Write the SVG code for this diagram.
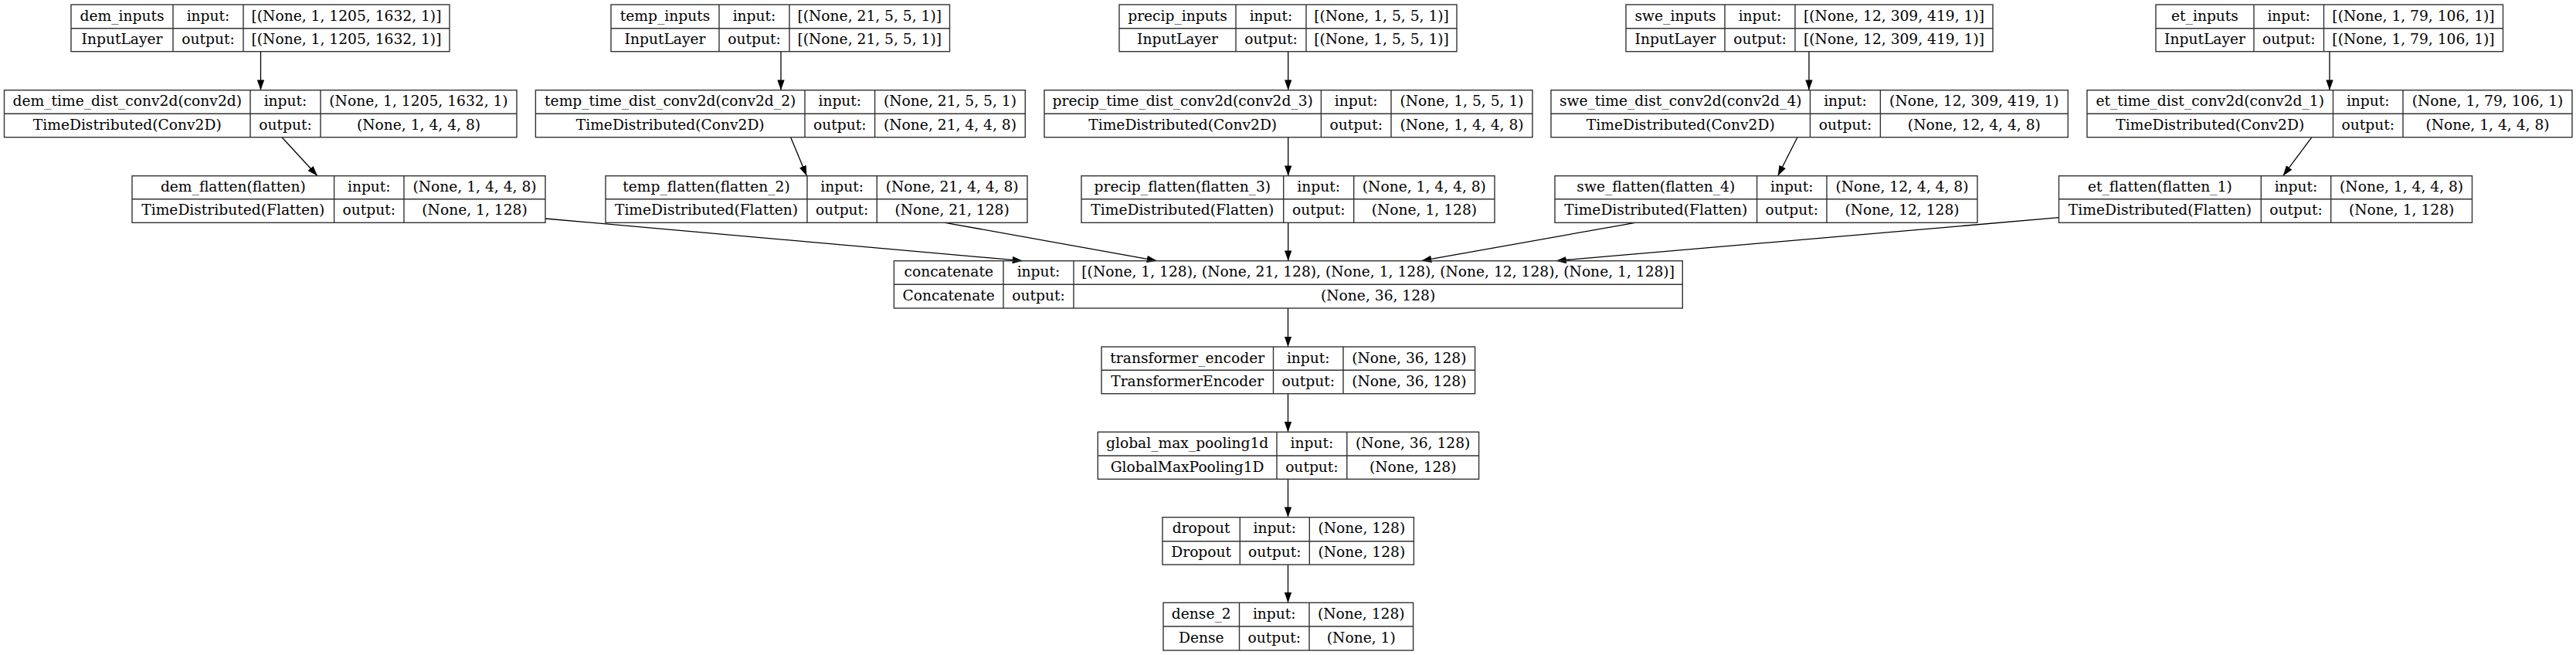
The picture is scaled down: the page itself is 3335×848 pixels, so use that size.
<svg xmlns="http://www.w3.org/2000/svg" width="3335" height="848" viewBox="0 0 3335 848">
<style>
.n rect,.n line{fill:none;stroke:#333;stroke-width:1.4}
.n text{font-family:"DejaVu Serif","Liberation Serif",serif;font-size:18.67px;text-anchor:middle;fill:#000}
.e path{fill:none;stroke:#000;stroke-width:1.3}
</style>
<defs>
<marker id="ah" markerUnits="userSpaceOnUse" markerWidth="14" markerHeight="10" refX="13.3" refY="4.67" orient="auto"><path d="M0,0 L13.3,4.67 L0,9.33 z" fill="#000"/></marker>
</defs>
<rect width="3335" height="848" fill="#fff"/>
<g class="e" marker-end="url(#ah)">
<path d="M337.5,66.7 L337.5,116.7" marker-end="url(#ah)"/>
<path d="M1011,66.7 L1011,116.7" marker-end="url(#ah)"/>
<path d="M1667.7,66.7 L1667.7,116.7" marker-end="url(#ah)"/>
<path d="M2342,66.7 L2342,116.7" marker-end="url(#ah)"/>
<path d="M3016,66.7 L3016,116.7" marker-end="url(#ah)"/>
<path d="M365,177.7 L411,227.7" marker-end="url(#ah)"/>
<path d="M1023.7,177.7 L1044.4,227.7" marker-end="url(#ah)"/>
<path d="M1667.7,177.7 L1667.7,227.7" marker-end="url(#ah)"/>
<path d="M2327,177.7 L2301.7,227.7" marker-end="url(#ah)"/>
<path d="M2993,177.7 L2955.7,227.7" marker-end="url(#ah)"/>
<path d="M706,283 L1324,337.7" marker-end="url(#ah)"/>
<path d="M1223.5,288.3 L1498,337.7" marker-end="url(#ah)"/>
<path d="M1667.7,288.3 L1667.7,337.7" marker-end="url(#ah)"/>
<path d="M2117,288.3 L1840,337.7" marker-end="url(#ah)"/>
<path d="M2665.5,281.7 L2014.5,337.7" marker-end="url(#ah)"/>
<path d="M1667.5,399 L1667.5,449" marker-end="url(#ah)"/>
<path d="M1667.5,509.7 L1667.5,559.3" marker-end="url(#ah)"/>
<path d="M1667.5,620.3 L1667.5,669.7" marker-end="url(#ah)"/>
<path d="M1667.5,731 L1667.5,780.3" marker-end="url(#ah)"/>
</g>

<g id="dem_inputs" class="n">
<rect x="92" y="6" width="490" height="60.7"/><line x1="92" y1="36.7" x2="582" y2="36.7"/><line x1="224" y1="6" x2="224" y2="66.7"/><line x1="315" y1="6" x2="315" y2="66.7"/>
<text x="158" y="26.5">dem_inputs</text><text x="269.5" y="26.5">input:</text><text x="448.5" y="26.5">[(None, 1, 1205, 1632, 1)]</text>
<text x="158" y="57.2">InputLayer</text><text x="269.5" y="57.2">output:</text><text x="448.5" y="57.2">[(None, 1, 1205, 1632, 1)]</text>
</g>
<g id="temp_inputs" class="n">
<rect x="791" y="6" width="438.5" height="60.7"/><line x1="791" y1="36.7" x2="1229.5" y2="36.7"/><line x1="931" y1="6" x2="931" y2="66.7"/><line x1="1022" y1="6" x2="1022" y2="66.7"/>
<text x="861" y="26.5">temp_inputs</text><text x="976.5" y="26.5">input:</text><text x="1125.75" y="26.5">[(None, 21, 5, 5, 1)]</text>
<text x="861" y="57.2">InputLayer</text><text x="976.5" y="57.2">output:</text><text x="1125.75" y="57.2">[(None, 21, 5, 5, 1)]</text>
</g>
<g id="precip_inputs" class="n">
<rect x="1449" y="6" width="437" height="60.7"/><line x1="1449" y1="36.7" x2="1886" y2="36.7"/><line x1="1600" y1="6" x2="1600" y2="66.7"/><line x1="1691" y1="6" x2="1691" y2="66.7"/>
<text x="1524.5" y="26.5">precip_inputs</text><text x="1645.5" y="26.5">input:</text><text x="1788.5" y="26.5">[(None, 1, 5, 5, 1)]</text>
<text x="1524.5" y="57.2">InputLayer</text><text x="1645.5" y="57.2">output:</text><text x="1788.5" y="57.2">[(None, 1, 5, 5, 1)]</text>
</g>
<g id="swe_inputs" class="n">
<rect x="2105" y="6" width="475" height="60.7"/><line x1="2105" y1="36.7" x2="2580" y2="36.7"/><line x1="2233" y1="6" x2="2233" y2="66.7"/><line x1="2324" y1="6" x2="2324" y2="66.7"/>
<text x="2169" y="26.5">swe_inputs</text><text x="2278.5" y="26.5">input:</text><text x="2452" y="26.5">[(None, 12, 309, 419, 1)]</text>
<text x="2169" y="57.2">InputLayer</text><text x="2278.5" y="57.2">output:</text><text x="2452" y="57.2">[(None, 12, 309, 419, 1)]</text>
</g>
<g id="et_inputs" class="n">
<rect x="2791" y="6" width="449.5" height="60.7"/><line x1="2791" y1="36.7" x2="3240.5" y2="36.7"/><line x1="2918" y1="6" x2="2918" y2="66.7"/><line x1="3008.5" y1="6" x2="3008.5" y2="66.7"/>
<text x="2854.5" y="26.5">et_inputs</text><text x="2963.25" y="26.5">input:</text><text x="3124.5" y="26.5">[(None, 1, 79, 106, 1)]</text>
<text x="2854.5" y="57.2">InputLayer</text><text x="2963.25" y="57.2">output:</text><text x="3124.5" y="57.2">[(None, 1, 79, 106, 1)]</text>
</g>

<g id="dem_conv" class="n">
<rect x="5.5" y="116.7" width="663.5" height="61"/><line x1="5.5" y1="147.3" x2="669" y2="147.3"/><line x1="324" y1="116.7" x2="324" y2="177.7"/><line x1="415" y1="116.7" x2="415" y2="177.7"/>
<text x="164.75" y="137.2">dem_time_dist_conv2d(conv2d)</text><text x="369.5" y="137.2">input:</text><text x="542" y="137.2">(None, 1, 1205, 1632, 1)</text>
<text x="164.75" y="167.8">TimeDistributed(Conv2D)</text><text x="369.5" y="167.8">output:</text><text x="542" y="167.8">(None, 1, 4, 4, 8)</text>
</g>
<g id="temp_conv" class="n">
<rect x="693.4" y="116.7" width="633.9" height="61"/><line x1="693.4" y1="147.3" x2="1327.3" y2="147.3"/><line x1="1042" y1="116.7" x2="1042" y2="177.7"/><line x1="1132.6" y1="116.7" x2="1132.6" y2="177.7"/>
<text x="867.7" y="137.2">temp_time_dist_conv2d(conv2d_2)</text><text x="1087.3" y="137.2">input:</text><text x="1230" y="137.2">(None, 21, 5, 5, 1)</text>
<text x="867.7" y="167.8">TimeDistributed(Conv2D)</text><text x="1087.3" y="167.8">output:</text><text x="1230" y="167.8">(None, 21, 4, 4, 8)</text>
</g>
<g id="precip_conv" class="n">
<rect x="1352" y="116.7" width="632" height="61"/><line x1="1352" y1="147.3" x2="1984" y2="147.3"/><line x1="1710.4" y1="116.7" x2="1710.4" y2="177.7"/><line x1="1801" y1="116.7" x2="1801" y2="177.7"/>
<text x="1531.2" y="137.2">precip_time_dist_conv2d(conv2d_3)</text><text x="1755.7" y="137.2">input:</text><text x="1892.5" y="137.2">(None, 1, 5, 5, 1)</text>
<text x="1531.2" y="167.8">TimeDistributed(Conv2D)</text><text x="1755.7" y="167.8">output:</text><text x="1892.5" y="167.8">(None, 1, 4, 4, 8)</text>
</g>
<g id="swe_conv" class="n">
<rect x="2008" y="116.7" width="669.3" height="61"/><line x1="2008" y1="147.3" x2="2677.3" y2="147.3"/><line x1="2343.5" y1="116.7" x2="2343.5" y2="177.7"/><line x1="2434.4" y1="116.7" x2="2434.4" y2="177.7"/>
<text x="2175.75" y="137.2">swe_time_dist_conv2d(conv2d_4)</text><text x="2389" y="137.2">input:</text><text x="2555.85" y="137.2">(None, 12, 309, 419, 1)</text>
<text x="2175.75" y="167.8">TimeDistributed(Conv2D)</text><text x="2389" y="167.8">output:</text><text x="2555.85" y="167.8">(None, 12, 4, 4, 8)</text>
</g>
<g id="et_conv" class="n">
<rect x="2702" y="116.7" width="628" height="61"/><line x1="2702" y1="147.3" x2="3330" y2="147.3"/><line x1="3020.5" y1="116.7" x2="3020.5" y2="177.7"/><line x1="3111" y1="116.7" x2="3111" y2="177.7"/>
<text x="2861.25" y="137.2">et_time_dist_conv2d(conv2d_1)</text><text x="3065.75" y="137.2">input:</text><text x="3220.5" y="137.2">(None, 1, 79, 106, 1)</text>
<text x="2861.25" y="167.8">TimeDistributed(Conv2D)</text><text x="3065.75" y="167.8">output:</text><text x="3220.5" y="167.8">(None, 1, 4, 4, 8)</text>
</g>

<g id="dem_flatten" class="n">
<rect x="171" y="227.7" width="535" height="60.6"/><line x1="171" y1="257.7" x2="706" y2="257.7"/><line x1="432.6" y1="227.7" x2="432.6" y2="288.3"/><line x1="523" y1="227.7" x2="523" y2="288.3"/>
<text x="301.8" y="248.2">dem_flatten(flatten)</text><text x="477.8" y="248.2">input:</text><text x="614.5" y="248.2">(None, 1, 4, 4, 8)</text>
<text x="301.8" y="278.2">TimeDistributed(Flatten)</text><text x="477.8" y="278.2">output:</text><text x="614.5" y="278.2">(None, 1, 128)</text>
</g>
<g id="temp_flatten" class="n">
<rect x="784" y="227.7" width="546" height="60.6"/><line x1="784" y1="257.7" x2="1330" y2="257.7"/><line x1="1045" y1="227.7" x2="1045" y2="288.3"/><line x1="1135.3" y1="227.7" x2="1135.3" y2="288.3"/>
<text x="914.5" y="248.2">temp_flatten(flatten_2)</text><text x="1090.15" y="248.2">input:</text><text x="1232.65" y="248.2">(None, 21, 4, 4, 8)</text>
<text x="914.5" y="278.2">TimeDistributed(Flatten)</text><text x="1090.15" y="278.2">output:</text><text x="1232.65" y="278.2">(None, 21, 128)</text>
</g>
<g id="precip_flatten" class="n">
<rect x="1400" y="227.7" width="535" height="60.6"/><line x1="1400" y1="257.7" x2="1935" y2="257.7"/><line x1="1661.7" y1="227.7" x2="1661.7" y2="288.3"/><line x1="1752.7" y1="227.7" x2="1752.7" y2="288.3"/>
<text x="1530.85" y="248.2">precip_flatten(flatten_3)</text><text x="1707.2" y="248.2">input:</text><text x="1843.85" y="248.2">(None, 1, 4, 4, 8)</text>
<text x="1530.85" y="278.2">TimeDistributed(Flatten)</text><text x="1707.2" y="278.2">output:</text><text x="1843.85" y="278.2">(None, 1, 128)</text>
</g>
<g id="swe_flatten" class="n">
<rect x="2013" y="227.7" width="547" height="60.6"/><line x1="2013" y1="257.7" x2="2560" y2="257.7"/><line x1="2274.6" y1="227.7" x2="2274.6" y2="288.3"/><line x1="2365" y1="227.7" x2="2365" y2="288.3"/>
<text x="2143.8" y="248.2">swe_flatten(flatten_4)</text><text x="2319.8" y="248.2">input:</text><text x="2462.5" y="248.2">(None, 12, 4, 4, 8)</text>
<text x="2143.8" y="278.2">TimeDistributed(Flatten)</text><text x="2319.8" y="278.2">output:</text><text x="2462.5" y="278.2">(None, 12, 128)</text>
</g>
<g id="et_flatten" class="n">
<rect x="2665.5" y="227.7" width="535" height="60.6"/><line x1="2665.5" y1="257.7" x2="3200.5" y2="257.7"/><line x1="2927.3" y1="227.7" x2="2927.3" y2="288.3"/><line x1="3017.7" y1="227.7" x2="3017.7" y2="288.3"/>
<text x="2796.4" y="248.2">et_flatten(flatten_1)</text><text x="2972.5" y="248.2">input:</text><text x="3109.1" y="248.2">(None, 1, 4, 4, 8)</text>
<text x="2796.4" y="278.2">TimeDistributed(Flatten)</text><text x="2972.5" y="278.2">output:</text><text x="3109.1" y="278.2">(None, 1, 128)</text>
</g>

<g id="concatenate" class="n">
<rect x="1157.4" y="337.7" width="1020.9" height="61.3"/><line x1="1157.4" y1="368.3" x2="2178.3" y2="368.3"/><line x1="1299" y1="337.7" x2="1299" y2="399"/><line x1="1390" y1="337.7" x2="1390" y2="399"/>
<text x="1228.2" y="358.2">concatenate</text><text x="1344.5" y="358.2">input:</text><text x="1784.15" y="358.2">[(None, 1, 128), (None, 21, 128), (None, 1, 128), (None, 12, 128), (None, 1, 128)]</text>
<text x="1228.2" y="388.8">Concatenate</text><text x="1344.5" y="388.8">output:</text><text x="1784.15" y="388.8">(None, 36, 128)</text>
</g>
<g id="transformer_encoder" class="n">
<rect x="1426" y="449" width="483.6" height="60.7"/><line x1="1426" y1="479.3" x2="1909.6" y2="479.3"/><line x1="1648.5" y1="449" x2="1648.5" y2="509.7"/><line x1="1739" y1="449" x2="1739" y2="509.7"/>
<text x="1537.25" y="469.5">transformer_encoder</text><text x="1693.75" y="469.5">input:</text><text x="1824.3" y="469.5">(None, 36, 128)</text>
<text x="1537.25" y="499.8">TransformerEncoder</text><text x="1693.75" y="499.8">output:</text><text x="1824.3" y="499.8">(None, 36, 128)</text>
</g>
<g id="global_max_pooling1d" class="n">
<rect x="1421.3" y="559.3" width="493.3" height="61"/><line x1="1421.3" y1="590" x2="1914.6" y2="590"/><line x1="1653" y1="559.3" x2="1653" y2="620.3"/><line x1="1743.8" y1="559.3" x2="1743.8" y2="620.3"/>
<text x="1537.15" y="579.8">global_max_pooling1d</text><text x="1698.4" y="579.8">input:</text><text x="1829.2" y="579.8">(None, 36, 128)</text>
<text x="1537.15" y="610.5">GlobalMaxPooling1D</text><text x="1698.4" y="610.5">output:</text><text x="1829.2" y="610.5">(None, 128)</text>
</g>
<g id="dropout" class="n">
<rect x="1505" y="669.7" width="325.4" height="61.3"/><line x1="1505" y1="700.7" x2="1830.4" y2="700.7"/><line x1="1605.3" y1="669.7" x2="1605.3" y2="731"/><line x1="1695.3" y1="669.7" x2="1695.3" y2="731"/>
<text x="1555.15" y="690.2">dropout</text><text x="1650.3" y="690.2">input:</text><text x="1762.85" y="690.2">(None, 128)</text>
<text x="1555.15" y="721.2">Dropout</text><text x="1650.3" y="721.2">output:</text><text x="1762.85" y="721.2">(None, 128)</text>
</g>
<g id="dense_2" class="n">
<rect x="1506" y="780.3" width="323.6" height="61.7"/><line x1="1506" y1="811" x2="1829.6" y2="811"/><line x1="1604.5" y1="780.3" x2="1604.5" y2="842"/><line x1="1695" y1="780.3" x2="1695" y2="842"/>
<text x="1555.25" y="800.8">dense_2</text><text x="1649.75" y="800.8">input:</text><text x="1762.3" y="800.8">(None, 128)</text>
<text x="1555.25" y="831.5">Dense</text><text x="1649.75" y="831.5">output:</text><text x="1762.3" y="831.5">(None, 1)</text>
</g>
</svg>
